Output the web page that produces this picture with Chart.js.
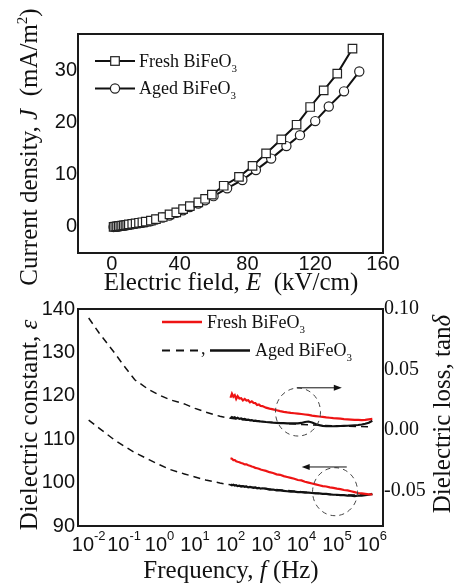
<!DOCTYPE html>
<html>
<head>
<meta charset="utf-8">
<script src="https://cdn.jsdelivr.net/npm/chart.js@4.4.0/dist/chart.umd.min.js"></script>
<style>
  html, body { margin: 0; padding: 0; background: #fff; }
  #wrap { position: relative; width: 454px; height: 587px; overflow: hidden; }
  .box { position: absolute; left: 0; width: 454px; }
  #topBox { top: 0; height: 300px; }
  #botBox { top: 296px; height: 291px; }
</style>
</head>
<body>
<div id="wrap">
  <div class="box" id="topBox"><canvas id="jeChart" width="454" height="300"></canvas></div>
  <div class="box" id="botBox"><canvas id="dielChart" width="454" height="291"></canvas></div>
</div>
<script>
// J-E curves: field in kV/cm, current density in mA/m^2
const freshE = [1, 2, 3, 4, 5, 6, 7, 8, 9, 10, 12, 14, 16, 18, 20, 23, 26, 30, 34, 38, 42, 46, 51, 55, 59, 66, 75, 83, 91, 100, 109, 117, 125, 133, 142];
const freshJ = [0.0, 0.05, 0.1, 0.15, 0.2, 0.25, 0.3, 0.35, 0.4, 0.5, 0.6, 0.7, 0.8, 0.9, 1.0, 1.2, 1.5, 1.9, 2.4, 2.8, 3.4, 4.0, 4.7, 5.4, 6.2, 7.9, 9.6, 11.7, 14.1, 16.8, 19.6, 23.0, 26.2, 29.4, 34.2];
const agedE = [1, 2, 3, 4, 5, 6, 7, 8, 9, 10, 12, 14, 16, 18, 20, 23, 26, 30, 34, 38, 42, 46, 51, 55, 60, 68, 77, 85, 94, 103, 111, 120, 128, 137, 146];
const agedJ = [0.0, 0.04, 0.08, 0.12, 0.16, 0.2, 0.25, 0.3, 0.35, 0.4, 0.5, 0.6, 0.7, 0.8, 0.9, 1.1, 1.4, 1.8, 2.2, 2.7, 3.2, 3.8, 4.5, 5.1, 5.9, 7.4, 9.0, 10.9, 13.1, 15.5, 17.6, 20.3, 23.1, 26.0, 29.8];
const jeXTicks = [0, 40, 80, 120, 160];
const jeYTicks = [0, 10, 20, 30];

// dielectric spectra, frequency given as log10(f / Hz)
const fitLogF = [-2, -1.7, -1.3, -1, -0.7, -0.3, 0, 0.3, 0.7, 1, 1.3, 1.7, 2, 3, 4, 5, 6];
const fitEps = [114.4, 112.5, 110.0, 108.4, 106.9, 105.3, 104.1, 103.0, 102.0, 101.3, 100.6, 99.9, 99.5, 98.6, 97.9, 97.1, 97.2];
const fitLoss = [0.0926, 0.0800, 0.0649, 0.0530, 0.0416, 0.0334, 0.0289, 0.0251, 0.0217, 0.0180, 0.0150, 0.0115, 0.0098, 0.0066, 0.0048, 0.0036, 0.0027];

const measLogF = [2.00, 2.04, 2.08, 2.12, 2.16, 2.20, 2.25, 2.30, 2.35, 2.40, 2.45, 2.50, 2.55, 2.60, 2.65, 2.70, 2.75, 2.80, 2.85, 2.90,
  3.0, 3.1, 3.2, 3.3, 3.4, 3.5, 3.6, 3.7, 3.8, 3.9, 4.0, 4.1, 4.2, 4.3, 4.4, 4.5, 4.6, 4.7, 4.8, 4.9, 5.0, 5.1, 5.2, 5.3, 5.4, 5.5, 5.6, 5.7, 5.8, 5.9, 6.0];
const freshEps = [105.6, 105.5, 105.2, 105.2, 104.9, 104.8, 104.7, 104.5, 104.4, 104.2, 104.2, 104.0, 103.9, 103.7, 103.6, 103.4, 103.3, 103.2, 103.0, 102.9,
  102.7, 102.4, 102.2, 101.9, 101.8, 101.5, 101.3, 101.1, 100.9, 100.6, 100.5, 100.2, 100.0, 99.8, 99.6, 99.4, 99.2, 99.1, 98.9, 98.8, 98.6, 98.5, 98.3, 98.2, 98.0, 97.8, 97.6, 97.5, 97.4, 97.3, 97.3];
const agedEps = [99.6, 99.4, 99.5, 99.3, 99.4, 99.2, 99.3, 99.1, 99.2, 99.0, 99.1, 98.9, 99.0, 98.9, 98.8, 98.9, 98.7, 98.8, 98.6, 98.7,
  98.6, 98.4, 98.4, 98.2, 98.2, 98.1, 98.0, 97.9, 97.9, 97.8, 97.8, 97.7, 97.7, 97.6, 97.5, 97.5, 97.4, 97.4, 97.3, 97.2, 97.2, 97.1, 97.1, 97.0, 97.0, 96.9, 97.0, 97.0, 97.1, 97.2, 97.4];
const freshLoss = [0.0268, 0.0302, 0.0276, 0.0290, 0.0258, 0.0281, 0.0262, 0.0265, 0.0246, 0.0258, 0.0244, 0.0247, 0.0230, 0.0238, 0.0226, 0.0224, 0.0208, 0.0212, 0.0201, 0.0199,
  0.0186, 0.0178, 0.0172, 0.0165, 0.0158, 0.0152, 0.0147, 0.0143, 0.0140, 0.0137, 0.0134, 0.0130, 0.0126, 0.0121, 0.0117, 0.0113, 0.0110, 0.0106, 0.0103, 0.0100, 0.0098, 0.0095, 0.0092, 0.0090, 0.0088, 0.0086, 0.0085, 0.0084, 0.0086, 0.0090, 0.0094];
const agedLoss = [0.0100, 0.0108, 0.0102, 0.0107, 0.0097, 0.0103, 0.0094, 0.0098, 0.0090, 0.0093, 0.0086, 0.0088, 0.0082, 0.0084, 0.0078, 0.0079, 0.0075, 0.0075, 0.0072, 0.0071,
  0.0068, 0.0066, 0.0063, 0.0061, 0.0059, 0.0058, 0.0057, 0.0056, 0.0056, 0.0057, 0.0060, 0.0068, 0.0072, 0.0064, 0.0052, 0.0042, 0.0036, 0.0034, 0.0033, 0.0033, 0.0034, 0.0035, 0.0036, 0.0037, 0.0039, 0.0041, 0.0043, 0.0047, 0.0053, 0.0062, 0.0078];
const freqTickExp = [-2, -1, 0, 1, 2, 3, 4, 5, 6];
const epsTicks = [90, 100, 110, 120, 130, 140];
const lossTicks = [-0.05, 0, 0.05, 0.10];

const SERIF = '"Liberation Serif", "Times New Roman", serif';
const SANS = '"Liberation Sans", Arial, sans-serif';
const INK = '#111';
const RED = 'rgb(238, 20, 20)';

function pts(xs, ys, toX) {
  return xs.map((x, i) => ({ x: toX ? Math.pow(10, x) : x, y: ys[i] }));
}

// draws a run of text pieces (italic / super / subscript) in one line
function drawRich(ctx, parts, x, y, size, opts) {
  opts = opts || {};
  ctx.save();
  ctx.translate(x, y);
  if (opts.rotate) ctx.rotate(opts.rotate);
  ctx.fillStyle = INK;
  ctx.textBaseline = 'alphabetic';
  ctx.textAlign = 'left';
  const small = Math.round(size * 0.6);
  const fontOf = p => (p.it ? 'italic ' : '') + ((p.sup || p.sub) ? small : size) + 'px ' + SERIF;
  let total = 0;
  const widths = parts.map(p => {
    ctx.font = fontOf(p);
    const w = ctx.measureText(p.t).width;
    total += w;
    return w;
  });
  let cx = opts.align === 'left' ? 0 : -total / 2;
  parts.forEach((p, i) => {
    ctx.font = fontOf(p);
    const dy = p.sup ? -size * 0.4 : (p.sub ? size * 0.3 : 0);
    ctx.fillText(p.t, cx, dy);
    cx += widths[i];
  });
  ctx.restore();
}

const framePlugin = {
  id: 'frame',
  afterDraw(chart) {
    const { ctx, chartArea: a } = chart;
    ctx.save();
    ctx.strokeStyle = '#1a1a1a';
    ctx.lineWidth = 2;
    ctx.strokeRect(a.left, a.top, a.right - a.left, a.bottom - a.top);
    ctx.restore();
  }
};

const bif = [{ t: 'BiFeO' }, { t: '3', sub: 1 }];

// ---------- top chart: J vs E ----------
const jeDeco = {
  id: 'jeDeco',
  afterDraw(chart) {
    const ctx = chart.ctx;
    drawRich(ctx, [{ t: 'Current density, ' }, { t: 'J', it: 1 }, { t: '  (mA/m' }, { t: '2', sup: 1 }, { t: ')' }], 37, 147, 25, { rotate: -Math.PI / 2 });
    drawRich(ctx, [{ t: 'Electric field, ' }, { t: 'E', it: 1 }, { t: '  (kV/cm)' }], 231, 290, 25);

    // legend
    ctx.save();
    ctx.strokeStyle = INK;
    ctx.lineWidth = 2;
    [61, 88.5].forEach(y => {
      ctx.beginPath(); ctx.moveTo(95, y); ctx.lineTo(135, y); ctx.stroke();
    });
    ctx.lineWidth = 1.2;
    ctx.fillStyle = '#fff';
    ctx.strokeStyle = '#222';
    ctx.fillRect(110.7, 56.7, 8.6, 8.6);
    ctx.strokeRect(110.7, 56.7, 8.6, 8.6);
    ctx.beginPath(); ctx.arc(115, 88.5, 4.6, 0, Math.PI * 2); ctx.fill(); ctx.stroke();
    ctx.restore();
    drawRich(ctx, [{ t: 'Fresh ' }].concat(bif), 139, 66.5, 18, { align: 'left' });
    drawRich(ctx, [{ t: 'Aged ' }].concat(bif), 139, 94, 18, { align: 'left' });
  }
};

new Chart(document.getElementById('jeChart'), {
  type: 'scatter',
  data: {
    datasets: [
      {
        label: 'Fresh BiFeO3',
        data: pts(freshE, freshJ),
        showLine: true,
        borderColor: INK,
        borderWidth: 2,
        pointStyle: 'rect',
        pointRadius: 6,
        pointBorderWidth: 1.2,
        pointBorderColor: '#222',
        pointBackgroundColor: '#fff'
      },
      {
        label: 'Aged BiFeO3',
        data: pts(agedE, agedJ),
        showLine: true,
        borderColor: INK,
        borderWidth: 2,
        pointStyle: 'circle',
        pointRadius: 4.6,
        pointBorderWidth: 1.2,
        pointBorderColor: '#222',
        pointBackgroundColor: '#fff'
      }
    ]
  },
  options: {
    responsive: false,
    animation: false,
    layout: { padding: { top: 34, right: 71, bottom: 0, left: 0 } },
    plugins: { legend: { display: false }, tooltip: { enabled: false } },
    scales: {
      x: {
        type: 'linear', min: -20, max: 160,
        afterBuildTicks: s => { s.ticks = jeXTicks.map(v => ({ value: v })); },
        afterFit: s => { s.height = 47; },
        grid: { display: false, drawTicks: false },
        border: { display: false },
        ticks: { color: INK, padding: 1, maxRotation: 0, autoSkip: false, font: { family: SANS, size: 20, lineHeight: 1 } }
      },
      y: {
        min: -5, max: 37,
        afterBuildTicks: s => { s.ticks = jeYTicks.map(v => ({ value: v })); },
        afterFit: s => { s.width = 78; },
        grid: { display: false, drawTicks: false },
        border: { display: false },
        ticks: { color: INK, padding: 1, font: { family: SANS, size: 20, lineHeight: 1 } }
      }
    }
  },
  plugins: [framePlugin, jeDeco]
});

// ---------- bottom chart: dielectric constant and loss ----------
const marks = {
  circles: [{ axis: 'yLoss', f: 8000, v: 0.015 }, { axis: 'yEps', f: 89000, v: 97.9 }],
  arrows: [{ axis: 'yLoss', from: 7400, to: 138000, v: 0.035 }, { axis: 'yEps', from: 190000, to: 10200, v: 103.6 }]
};

const dielDeco = {
  id: 'dielDeco',
  afterDatasetsDraw(chart) {
    const ctx = chart.ctx;
    const sx = chart.scales.x;
    ctx.save();
    ctx.strokeStyle = '#444';
    ctx.lineWidth = 1;
    ctx.setLineDash([5, 4]);
    marks.circles.forEach(c => {
      const cx = sx.getPixelForValue(c.f);
      const cy = chart.scales[c.axis].getPixelForValue(c.v);
      ctx.beginPath();
      ctx.ellipse(cx, cy, 22.5, 24, 0, 0, Math.PI * 2);
      ctx.stroke();
    });
    ctx.setLineDash([]);
    ctx.strokeStyle = INK;
    ctx.fillStyle = INK;
    marks.arrows.forEach(a => {
      const x1 = sx.getPixelForValue(a.from);
      const x2 = sx.getPixelForValue(a.to);
      const y = chart.scales[a.axis].getPixelForValue(a.v);
      const dir = Math.sign(x2 - x1);
      ctx.beginPath(); ctx.moveTo(x1, y); ctx.lineTo(x2 - dir * 6, y); ctx.stroke();
      ctx.beginPath();
      ctx.moveTo(x2, y);
      ctx.lineTo(x2 - dir * 8, y - 3);
      ctx.lineTo(x2 - dir * 8, y + 3);
      ctx.closePath();
      ctx.fill();
    });
    ctx.restore();
  },
  afterDraw(chart) {
    const ctx = chart.ctx;
    const sx = chart.scales.x;
    const bottom = chart.chartArea.bottom;
    // log tick labels 10^k
    ctx.save();
    ctx.fillStyle = INK;
    ctx.textBaseline = 'alphabetic';
    ctx.textAlign = 'left';
    freqTickExp.forEach(k => {
      const px = sx.getPixelForValue(Math.pow(10, k));
      ctx.font = '20px ' + SANS;
      const wb = ctx.measureText('10').width;
      ctx.font = '13px ' + SANS;
      const ws = ctx.measureText(String(k)).width;
      const x0 = px - (wb + ws) / 2;
      ctx.font = '20px ' + SANS;
      ctx.fillText('10', x0, bottom + 25);
      ctx.font = '13px ' + SANS;
      ctx.fillText(String(k), x0 + wb, bottom + 14);
    });
    ctx.restore();

    drawRich(ctx, [{ t: 'Frequency, ' }, { t: 'f', it: 1 }, { t: ' (Hz)' }], 231, 282, 25);
    drawRich(ctx, [{ t: 'Dielectric constant, ' }, { t: 'ε', it: 1 }], 37, 129, 25, { rotate: -Math.PI / 2 });
    drawRich(ctx, [{ t: 'Dielectric loss, tan' }, { t: 'δ', it: 1 }], 450, 118, 25, { rotate: -Math.PI / 2 });

    // legend
    ctx.save();
    ctx.lineWidth = 2.5;
    ctx.strokeStyle = RED;
    ctx.beginPath(); ctx.moveTo(162, 26); ctx.lineTo(202, 26); ctx.stroke();
    ctx.strokeStyle = INK;
    ctx.lineWidth = 1.8;
    ctx.setLineDash([8, 6]);
    ctx.beginPath(); ctx.moveTo(162, 54.5); ctx.lineTo(200, 54.5); ctx.stroke();
    ctx.setLineDash([]);
    ctx.lineWidth = 2.5;
    ctx.beginPath(); ctx.moveTo(210, 54.5); ctx.lineTo(250, 54.5); ctx.stroke();
    ctx.restore();
    drawRich(ctx, [{ t: ',' }], 201, 58, 18, { align: 'left' });
    drawRich(ctx, [{ t: 'Fresh ' }].concat(bif), 207, 31.5, 18, { align: 'left' });
    drawRich(ctx, [{ t: 'Aged ' }].concat(bif), 255, 60, 18, { align: 'left' });
  }
};

new Chart(document.getElementById('dielChart'), {
  type: 'scatter',
  data: {
    datasets: [
      { label: 'Fresh loss', data: pts(measLogF, freshLoss, true), yAxisID: 'yLoss', showLine: true, borderColor: RED, borderWidth: 2.2, pointRadius: 0 },
      { label: 'Fresh eps', data: pts(measLogF, freshEps, true), yAxisID: 'yEps', showLine: true, borderColor: RED, borderWidth: 2.2, pointRadius: 0 },
      { label: 'Aged loss', data: pts(measLogF, agedLoss, true), yAxisID: 'yLoss', showLine: true, borderColor: INK, borderWidth: 2.2, pointRadius: 0 },
      { label: 'Aged eps', data: pts(measLogF, agedEps, true), yAxisID: 'yEps', showLine: true, borderColor: INK, borderWidth: 2.2, pointRadius: 0 },
      { label: 'Fit loss', data: pts(fitLogF, fitLoss, true), yAxisID: 'yLoss', showLine: true, borderColor: INK, borderWidth: 1.5, borderDash: [7, 5], pointRadius: 0 },
      { label: 'Fit eps', data: pts(fitLogF, fitEps, true), yAxisID: 'yEps', showLine: true, borderColor: INK, borderWidth: 1.5, borderDash: [7, 5], pointRadius: 0 }
    ]
  },
  options: {
    responsive: false,
    animation: false,
    layout: { padding: { top: 12, right: 0, bottom: 0, left: 0 } },
    plugins: { legend: { display: false }, tooltip: { enabled: false } },
    scales: {
      x: {
        type: 'logarithmic', min: 0.005, max: 2e6,
        afterFit: s => { s.height = 61; },
        grid: { display: false, drawTicks: false },
        border: { display: false },
        ticks: { display: false }
      },
      yEps: {
        position: 'left', min: 90, max: 140,
        afterBuildTicks: s => { s.ticks = epsTicks.map(v => ({ value: v })); },
        afterFit: s => { s.width = 78; },
        grid: { display: false, drawTicks: false },
        border: { display: false },
        ticks: { color: INK, padding: 3, font: { family: SANS, size: 20, lineHeight: 1 } }
      },
      yLoss: {
        position: 'right', min: -0.079, max: 0.10,
        afterBuildTicks: s => { s.ticks = lossTicks.map(v => ({ value: v })); },
        afterFit: s => { s.width = 71; },
        grid: { display: false, drawTicks: false },
        border: { display: false },
        ticks: { color: INK, padding: 1, font: { family: SERIF, size: 20, lineHeight: 1 }, callback: v => v.toFixed(2) }
      }
    }
  },
  plugins: [framePlugin, dielDeco]
});
</script>
</body>
</html>
